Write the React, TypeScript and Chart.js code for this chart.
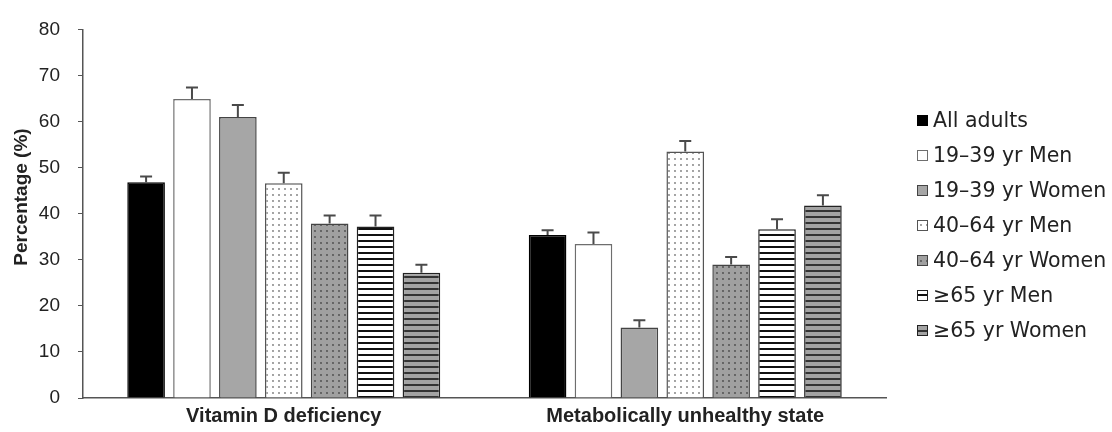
import React, { useEffect, useRef } from 'react';
import { Chart, registerables } from 'chart.js';

Chart.register(...registerables);

const categories = ['Vitamin D deficiency', 'Metabolically unhealthy state'];
const seriesLabels = [
  'All adults',
  '19–39 yr Men',
  '19–39 yr Women',
  '40–64 yr Men',
  '40–64 yr Women',
  '≥65 yr Men',
  '≥65 yr Women',
];
const allAdults = [46.8, 35.4];
const men1939 = [64.9, 33.4];
const women1939 = [61.0, 15.3];
const men4064 = [46.6, 53.5];
const women4064 = [37.9, 29.0];
const men65 = [37.2, 36.6];
const women65 = [27.2, 41.8];

const errAllAdults = [1.3, 1.0];
const errMen1939 = [2.5, 2.5];
const errWomen1939 = [2.6, 1.6];
const errMen4064 = [2.3, 2.3];
const errWomen4064 = [1.7, 1.6];
const errMen65 = [2.4, 2.2];
const errWomen65 = [1.7, 2.2];

const yTickValues = [0, 10, 20, 30, 40, 50, 60, 70, 80];
const yTitle = 'Percentage (%)';

const seriesValues = [allAdults, men1939, women1939, men4064, women4064, men65, women65];
const seriesErrors = [errAllAdults, errMen1939, errWomen1939, errMen4064, errWomen4064, errMen65, errWomen65];

function makePattern(ctx: CanvasRenderingContext2D, bg: string, fg: string, kind: 'dots' | 'lines') {
  const c = document.createElement('canvas');
  c.width = 6;
  c.height = 6;
  const g = c.getContext('2d') as CanvasRenderingContext2D;
  g.fillStyle = bg;
  g.fillRect(0, 0, 6, 6);
  g.fillStyle = fg;
  if (kind === 'dots') {
    g.beginPath();
    g.arc(3, 3, 0.9, 0, Math.PI * 2);
    g.fill();
  } else {
    g.fillRect(0, 0, 6, 2);
  }
  return ctx.createPattern(c, 'repeat') as CanvasPattern;
}

const errorBarPlugin = {
  id: 'errorBars',
  afterDatasetsDraw(chart: any) {
    const ctx = chart.ctx;
    const y = chart.scales.y;
    chart.data.datasets.forEach((ds: any, i: number) => {
      const meta = chart.getDatasetMeta(i);
      meta.data.forEach((bar: any, j: number) => {
        const v = ds.data[j];
        const e = seriesErrors[i][j];
        const x = bar.x;
        const yTop = y.getPixelForValue(v + e);
        const yBase = y.getPixelForValue(v);
        ctx.save();
        ctx.strokeStyle = '#4a4a4a';
        ctx.lineWidth = 2;
        ctx.beginPath();
        ctx.moveTo(x, yBase);
        ctx.lineTo(x, yTop);
        ctx.moveTo(x - 6, yTop);
        ctx.lineTo(x + 6, yTop);
        ctx.stroke();
        ctx.restore();
      });
    });
  },
};

const sideLegendPlugin = {
  id: 'sideLegend',
  afterDraw(chart: any) {
    const ctx = chart.ctx;
    ctx.save();
    ctx.font = '20.5px "DejaVu Sans", sans-serif';
    ctx.textBaseline = 'middle';
    ctx.textAlign = 'left';
    chart.data.datasets.forEach((ds: any, i: number) => {
      const cy = 121 + i * 35;
      ctx.fillStyle = ds.backgroundColor;
      ctx.fillRect(917, cy - 6, 11, 11);
      ctx.strokeStyle = ds.borderColor;
      ctx.lineWidth = 1;
      ctx.strokeRect(917.5, cy - 5.5, 10, 10);
      ctx.fillStyle = '#222';
      ctx.fillText(ds.label, 933, cy + 1);
    });
    ctx.restore();
  },
};

const yTitlePlugin = {
  id: 'yTitle',
  afterDraw(chart: any) {
    const ctx = chart.ctx;
    ctx.save();
    ctx.translate(22, 197);
    ctx.rotate(-Math.PI / 2);
    ctx.font = 'bold 19px "Liberation Sans", Arial, sans-serif';
    ctx.fillStyle = '#222';
    ctx.textAlign = 'center';
    ctx.textBaseline = 'middle';
    ctx.fillText(yTitle, 0, 0);
    ctx.restore();
  },
};

export default function App() {
  const canvasRef = useRef<HTMLCanvasElement | null>(null);

  useEffect(() => {
    const canvas = canvasRef.current;
    if (!canvas) return;
    const ctx = canvas.getContext('2d') as CanvasRenderingContext2D;

    const fills: any[] = [
      '#000000',
      '#ffffff',
      '#a6a6a6',
      makePattern(ctx, '#ffffff', '#7a7a7a', 'dots'),
      makePattern(ctx, '#a0a0a0', '#4a4a4a', 'dots'),
      makePattern(ctx, '#ffffff', '#111111', 'lines'),
      makePattern(ctx, '#a3a3a3', '#333333', 'lines'),
    ];
    const borders = ['#000000', '#6e6e6e', '#444444', '#555555', '#444444', '#222222', '#222222'];

    const chart = new Chart(canvas, {
      type: 'bar',
      data: {
        labels: categories,
        datasets: seriesLabels.map((label, i) => ({
          label,
          data: seriesValues[i],
          backgroundColor: fills[i],
          borderColor: borders[i],
          borderWidth: 1.5,
          borderSkipped: 'bottom',
          categoryPercentage: 0.8,
          barPercentage: 0.82,
        })),
      },
      options: {
        animation: false,
        responsive: false,
        maintainAspectRatio: false,
        layout: { padding: { top: 24, bottom: 3, left: 0, right: 226 } },
        plugins: {
          legend: { display: false },
          tooltip: { enabled: false },
        },
        scales: {
          x: {
            afterFit: (scale: any) => {
              scale.height = 31;
            },
            grid: { display: false, drawTicks: false },
            border: { display: true, color: '#555', width: 1.5 },
            ticks: {
              padding: 6,
              color: '#222',
              font: { family: '"Liberation Sans", Arial, sans-serif', size: 20, weight: 'bold' },
            },
          },
          y: {
            min: 0,
            max: 80,
            afterFit: (scale: any) => {
              scale.width = 83;
            },
            grid: { display: true, drawOnChartArea: false, drawTicks: true, tickLength: 5, color: '#555' },
            border: { display: true, color: '#555', width: 1.5 },
            ticks: {
              stepSize: 5,
              padding: 18,
              color: '#222',
              font: { family: '"Liberation Sans", Arial, sans-serif', size: 19 },
              callback: (v: any) => (yTickValues.includes(Number(v)) ? String(v) : ''),
            },
          },
        },
      },
      plugins: [errorBarPlugin, sideLegendPlugin, yTitlePlugin],
    });

    return () => chart.destroy();
  }, []);

  return (
    <div style={{ position: 'fixed', left: 0, top: 0, width: 1112, height: 432, background: '#fff' }}>
      <canvas ref={canvasRef} width={1112} height={432} style={{ width: 1112, height: 432, display: 'block' }} />
    </div>
  );
}
